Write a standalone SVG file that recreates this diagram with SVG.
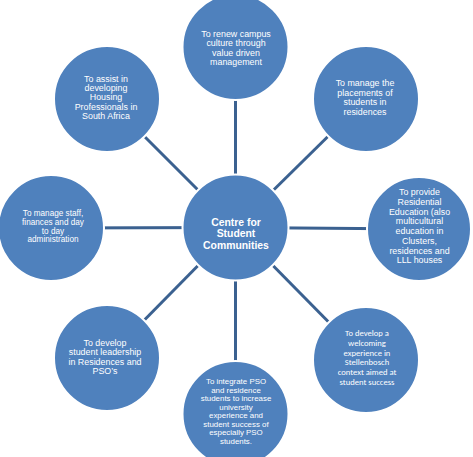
<svg xmlns="http://www.w3.org/2000/svg" width="473" height="457" viewBox="0 0 473 457">
<style>
.c{fill:#4F81BD;stroke:#ffffff;stroke-width:2}
.ln{stroke:#3B6190;stroke-width:3;fill:none}
.t{font-family:"Liberation Sans",Arial,sans-serif;fill:#ffffff;text-anchor:middle;font-size:8.9px}
.k{font-family:Carlito,Calibri,Lato,sans-serif;fill:#ffffff;text-anchor:middle;font-size:8.6px}
.m{font-family:"Liberation Sans",Arial,sans-serif;fill:#ffffff;text-anchor:middle;font-size:10.4px;font-weight:bold}
</style>
<rect width="473" height="457" fill="#ffffff"/>
<g id="connectors">
<line class="ln" x1="235.5" y1="227.5" x2="235.5" y2="47"/>
<line class="ln" x1="235.5" y1="227.5" x2="366" y2="99"/>
<line class="ln" x1="235.5" y1="227.5" x2="419" y2="229"/>
<line class="ln" x1="235.5" y1="227.5" x2="366" y2="360"/>
<line class="ln" x1="235.5" y1="227.5" x2="235.5" y2="414"/>
<line class="ln" x1="235.5" y1="227.5" x2="107" y2="358"/>
<line class="ln" x1="235.5" y1="227.5" x2="51" y2="228"/>
<line class="ln" x1="235.5" y1="227.5" x2="107" y2="99"/>
</g>
<g id="center">
<circle class="c" cx="235.5" cy="227.5" r="53"/>
<text class="m" x="236" y="226"><tspan x="236">Centre for</tspan><tspan x="236" dy="11.3">Student</tspan><tspan x="236" dy="11.3">Communities</tspan></text>
</g>
<g id="n-top">
<circle class="c" cx="235.5" cy="47" r="53"/>
<text class="t" x="236" y="36.5"><tspan x="236">To renew campus</tspan><tspan x="236" dy="9.6">culture through</tspan><tspan x="236" dy="9.6">value driven</tspan><tspan x="236" dy="9.6">management</tspan></text>
</g>
<g id="n-topright">
<circle class="c" cx="366" cy="99" r="53"/>
<text class="t" x="365" y="86"><tspan x="365">To manage the</tspan><tspan x="365" dy="9.5">placements of</tspan><tspan x="365" dy="9.5">students in</tspan><tspan x="365" dy="9.5">residences</tspan></text>
</g>
<g id="n-right">
<circle class="c" cx="419" cy="229" r="52"/>
<text class="t" x="419.5" y="195"><tspan x="419.5">To provide</tspan><tspan x="419.5" dy="9.75">Residential</tspan><tspan x="419.5" dy="9.75">Education (also</tspan><tspan x="419.5" dy="9.75">multicultural</tspan><tspan x="419.5" dy="9.75">education in</tspan><tspan x="419.5" dy="9.75">Clusters,</tspan><tspan x="419.5" dy="9.75">residences and</tspan><tspan x="419.5" dy="9.75">LLL houses</tspan></text>
</g>
<g id="n-bottomright">
<circle class="c" cx="366" cy="360" r="53"/>
<text class="k" x="367" y="336"><tspan x="367">To develop a</tspan><tspan x="367" dy="9.8">welcoming</tspan><tspan x="367" dy="9.8">experience in</tspan><tspan x="367" dy="9.8">Stellenbosch</tspan><tspan x="367" dy="9.8">context aimed at</tspan><tspan x="367" dy="9.8">student success</tspan></text>
</g>
<g id="n-bottom">
<circle class="c" cx="235.5" cy="414" r="53"/>
<text class="t" x="236" y="384" style="font-size:7.9px"><tspan x="236">To integrate PSO</tspan><tspan x="236" dy="8.5">and residence</tspan><tspan x="236" dy="8.5">students to increase</tspan><tspan x="236" dy="8.5">university</tspan><tspan x="236" dy="8.5">experience and</tspan><tspan x="236" dy="8.5">student success of</tspan><tspan x="236" dy="8.5">especially PSO</tspan><tspan x="236" dy="8.5">students.</tspan></text>
</g>
<g id="n-bottomleft">
<circle class="c" cx="107" cy="358" r="53"/>
<text class="t" x="105" y="346"><tspan x="105">To develop</tspan><tspan x="105" dy="9.3">student leadership</tspan><tspan x="105" dy="9.3">in Residences and</tspan><tspan x="105" dy="9.3">PSO’s</tspan></text>
</g>
<g id="n-left">
<circle class="c" cx="51" cy="228" r="53"/>
<text class="t" x="53" y="216" style="font-size:8.2px"><tspan x="53">To manage staff,</tspan><tspan x="53" dy="8.8">finances and day</tspan><tspan x="53" dy="8.8">to day</tspan><tspan x="53" dy="8.8">administration</tspan></text>
</g>
<g id="n-topleft">
<circle class="c" cx="107" cy="99" r="53"/>
<text class="t" x="106" y="81.5"><tspan x="106">To assist in</tspan><tspan x="106" dy="9.4">developing</tspan><tspan x="106" dy="9.4">Housing</tspan><tspan x="106" dy="9.4">Professionals in</tspan><tspan x="106" dy="9.4">South Africa</tspan></text>
</g>
</svg>
